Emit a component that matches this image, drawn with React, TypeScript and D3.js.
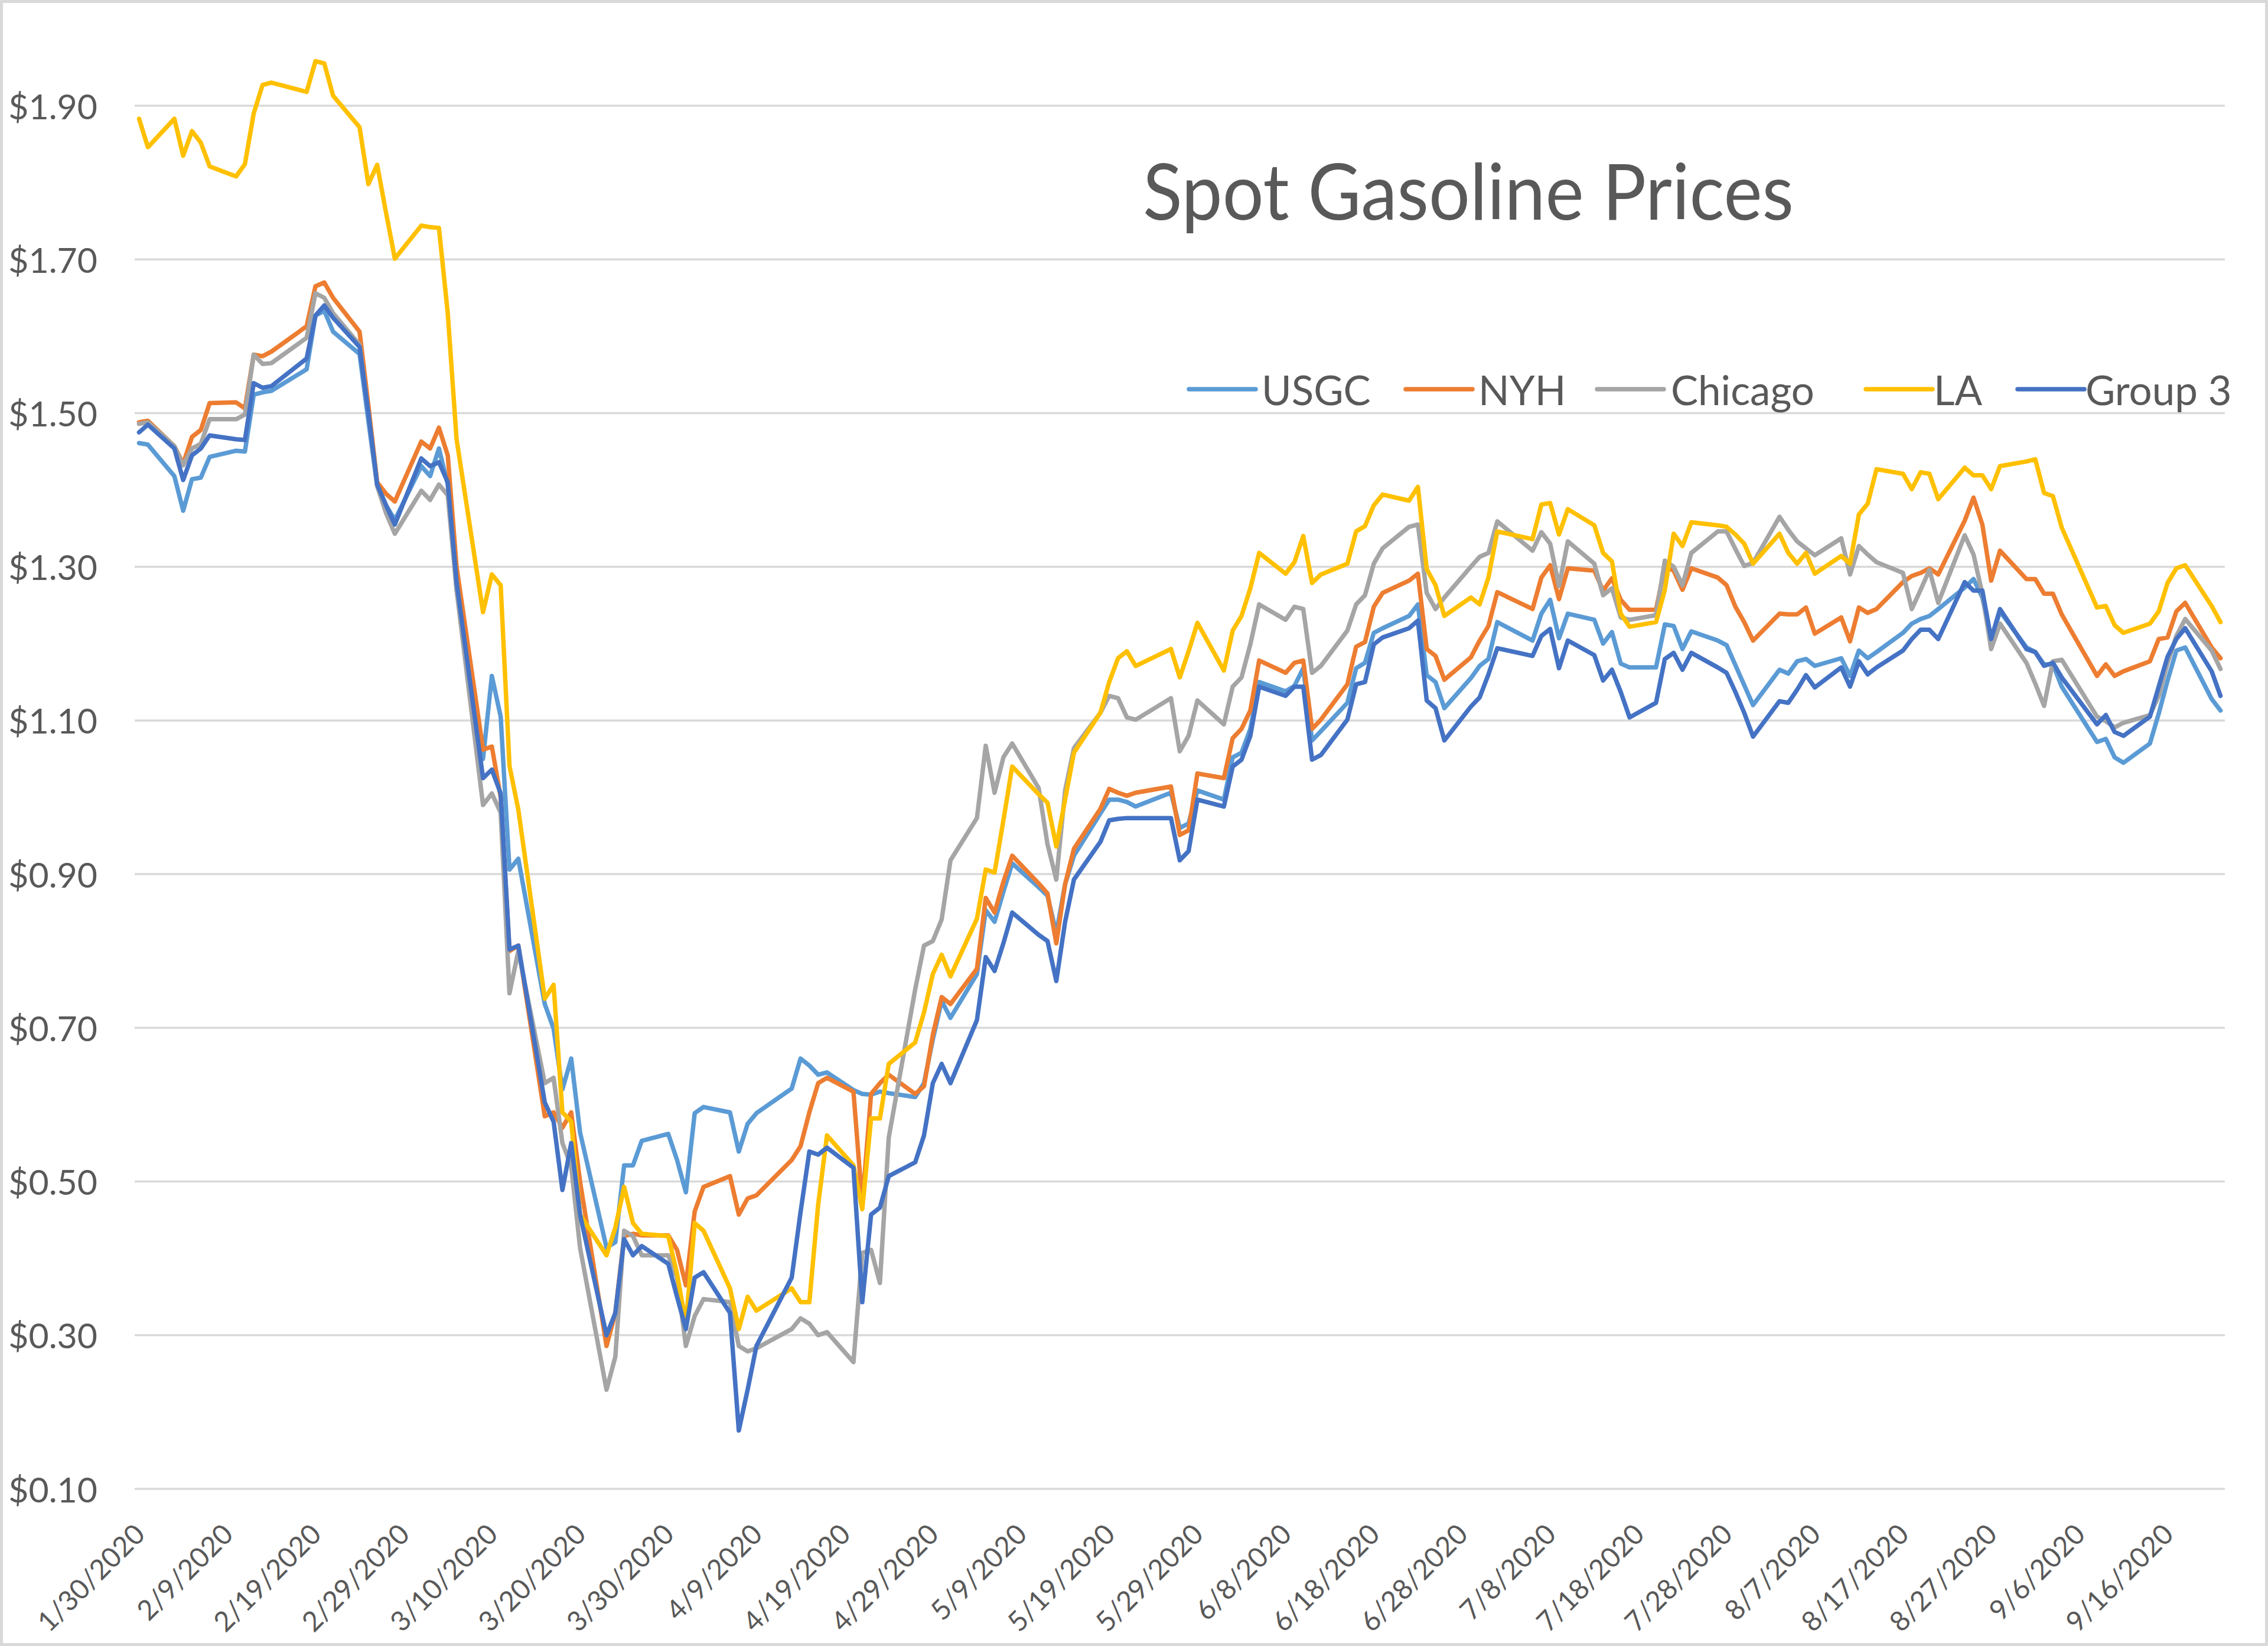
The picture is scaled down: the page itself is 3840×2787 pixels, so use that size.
import React from "react";
import * as d3 from "d3";

// ---- Data ----
const dates: string[] = [
  "1/30","1/31","2/3","2/4","2/5","2/6","2/7","2/10","2/11","2/12","2/13","2/14","2/18","2/19","2/20","2/21","2/24","2/25","2/26","2/27","2/28","3/2","3/3","3/4","3/5","3/6","3/9","3/10",
  "3/11","3/12","3/13","3/16","3/17","3/18","3/19","3/20","3/23","3/24","3/25","3/26","3/27","3/30","3/31","4/1","4/2","4/3","4/6","4/7","4/8","4/9","4/13","4/14","4/15","4/16","4/17","4/20","4/21","4/22","4/23","4/24","4/27","4/28","4/29","4/30","5/1","5/4","5/5","5/6",
  "5/7","5/8","5/11","5/12","5/13","5/14","5/15","5/18","5/19","5/20","5/21","5/22","5/26","5/27","5/28","5/29","6/1","6/2","6/3","6/4","6/5","6/8","6/9","6/10","6/11","6/12","6/15","6/16","6/17","6/18","6/19","6/22","6/23","6/24","6/25","6/26",
  "6/29","6/30","7/1","7/2","7/6","7/7","7/8","7/9","7/10","7/13","7/14","7/15","7/16","7/17","7/20","7/21","7/22","7/23","7/24","7/27","7/28","7/29","7/30","7/31","8/3","8/4","8/5","8/6","8/7",
  "8/10","8/11","8/12","8/13","8/14","8/17","8/18","8/19","8/20","8/21","8/24","8/25","8/26","8/27","8/28","8/31","9/1","9/2","9/3","9/4","9/8","9/9","9/10","9/11","9/14","9/15","9/16","9/17","9/18","9/21","9/22",
];

const usgc: number[] = [
  1.461,1.459,1.418,1.373,1.414,1.416,1.443,1.451,1.450,1.524,1.527,1.529,1.557,1.627,1.633,1.606,1.577,1.49,1.405,1.38,1.361,1.431,1.418,1.454,1.407,1.27,1.05,1.158,
  1.105,0.906,0.920,0.731,0.699,0.62,0.660,0.564,0.414,0.421,0.521,0.521,0.553,0.562,0.528,0.486,0.589,0.597,0.590,0.539,0.575,0.589,0.621,0.660,0.651,0.639,0.642,0.619,0.614,0.613,0.617,0.615,0.610,0.628,0.685,0.735,0.713,0.77,0.853,0.838,
  0.877,0.914,0.883,0.872,0.823,0.887,0.924,0.979,0.997,0.997,0.994,0.988,1.006,0.96,0.966,1.009,0.997,1.052,1.058,1.089,1.15,1.138,1.145,1.168,1.074,1.086,1.123,1.168,1.175,1.214,1.22,1.236,1.251,1.159,1.15,1.116,
  1.155,1.171,1.18,1.228,1.204,1.239,1.257,1.207,1.239,1.231,1.20,1.215,1.174,1.169,1.169,1.225,1.223,1.193,1.216,1.204,1.198,1.172,1.146,1.12,1.166,1.161,1.177,1.18,1.171,
  1.181,1.158,1.191,1.181,1.189,1.214,1.226,1.232,1.236,1.245,1.273,1.284,1.26,1.205,1.242,1.195,1.189,1.173,1.173,1.144,1.072,1.076,1.052,1.045,1.07,1.109,1.152,1.191,1.195,1.128,1.113,
];

const nyh: number[] = [
  1.488,1.490,1.457,1.434,1.469,1.478,1.513,1.514,1.506,1.576,1.574,1.58,1.613,1.665,1.670,1.650,1.606,1.51,1.41,1.395,1.385,1.463,1.454,1.481,1.445,1.30,1.062,1.066,
  1.0,0.80,0.807,0.585,0.590,0.57,0.59,0.50,0.286,0.329,0.429,0.432,0.430,0.430,0.411,0.365,0.461,0.493,0.507,0.457,0.478,0.482,0.528,0.546,0.59,0.628,0.635,0.617,0.471,0.614,0.628,0.639,0.614,0.624,0.691,0.74,0.731,0.777,0.869,0.85,
  0.89,0.924,0.888,0.875,0.81,0.887,0.933,0.985,1.011,1.006,1.002,1.006,1.014,0.951,0.957,1.031,1.025,1.077,1.089,1.113,1.178,1.162,1.175,1.178,1.089,1.101,1.147,1.196,1.202,1.248,1.266,1.282,1.291,1.193,1.184,1.153,
  1.182,1.204,1.223,1.267,1.245,1.286,1.302,1.258,1.298,1.295,1.269,1.285,1.257,1.244,1.244,1.30,1.295,1.27,1.298,1.286,1.276,1.248,1.228,1.204,1.239,1.238,1.238,1.247,1.213,
  1.234,1.203,1.247,1.24,1.245,1.28,1.288,1.292,1.298,1.29,1.36,1.39,1.355,1.282,1.321,1.284,1.284,1.265,1.265,1.238,1.158,1.173,1.158,1.164,1.177,1.206,1.208,1.242,1.253,1.195,1.181,
];

const chicago: number[] = [
  1.486,1.488,1.457,1.432,1.454,1.460,1.492,1.492,1.498,1.576,1.564,1.565,1.598,1.656,1.650,1.630,1.589,1.50,1.405,1.37,1.343,1.399,1.387,1.407,1.393,1.27,0.99,1.005,
  0.98,0.745,0.80,0.628,0.635,0.55,0.52,0.414,0.229,0.272,0.436,0.429,0.404,0.404,0.375,0.286,0.325,0.347,0.343,0.286,0.279,0.283,0.308,0.322,0.315,0.30,0.304,0.265,0.407,0.411,0.368,0.557,0.75,0.807,0.813,0.841,0.918,0.973,1.067,1.006,
  1.052,1.07,1.012,0.939,0.893,1.009,1.064,1.11,1.132,1.129,1.104,1.101,1.129,1.06,1.08,1.126,1.095,1.144,1.156,1.199,1.251,1.231,1.248,1.245,1.162,1.171,1.217,1.251,1.263,1.304,1.324,1.352,1.355,1.266,1.245,1.26,
  1.30,1.313,1.318,1.359,1.321,1.345,1.33,1.275,1.333,1.304,1.263,1.272,1.234,1.231,1.237,1.308,1.30,1.276,1.318,1.346,1.346,1.323,1.301,1.305,1.365,1.348,1.333,1.324,1.315,
  1.337,1.29,1.327,1.316,1.306,1.292,1.245,1.27,1.296,1.253,1.341,1.316,1.265,1.193,1.226,1.175,1.148,1.119,1.177,1.179,1.105,1.099,1.091,1.097,1.107,1.132,1.175,1.21,1.232,1.191,1.167,
];

const la: number[] = [
  1.883,1.846,1.883,1.835,1.867,1.852,1.821,1.808,1.824,1.89,1.927,1.930,1.918,1.958,1.955,1.913,1.872,1.798,1.823,1.761,1.701,1.744,1.742,1.741,1.630,1.466,1.241,1.290,
  1.276,1.041,0.984,0.738,0.756,0.59,0.578,0.457,0.404,0.44,0.493,0.446,0.432,0.429,0.38,0.315,0.446,0.436,0.361,0.308,0.350,0.332,0.361,0.343,0.343,0.47,0.56,0.521,0.464,0.582,0.582,0.653,0.681,0.72,0.77,0.795,0.767,0.842,0.906,0.902,
  0.97,1.04,1.004,0.993,0.936,0.997,1.058,1.11,1.15,1.181,1.19,1.171,1.193,1.156,1.19,1.227,1.165,1.217,1.236,1.272,1.318,1.291,1.306,1.34,1.279,1.29,1.304,1.346,1.353,1.38,1.394,1.386,1.404,1.297,1.276,1.236,
  1.26,1.251,1.286,1.346,1.336,1.381,1.383,1.342,1.375,1.354,1.318,1.307,1.239,1.222,1.228,1.27,1.343,1.327,1.358,1.354,1.352,1.342,1.33,1.304,1.343,1.318,1.304,1.318,1.291,
  1.314,1.304,1.368,1.382,1.427,1.421,1.401,1.423,1.421,1.388,1.429,1.419,1.419,1.401,1.431,1.437,1.44,1.396,1.392,1.351,1.247,1.249,1.224,1.214,1.226,1.242,1.279,1.298,1.302,1.249,1.228,
];

const group3: number[] = [
  1.475,1.485,1.454,1.413,1.445,1.454,1.471,1.466,1.465,1.539,1.533,1.535,1.571,1.627,1.640,1.624,1.586,1.50,1.407,1.38,1.355,1.441,1.431,1.436,1.410,1.28,1.025,1.036,
  1.005,0.802,0.807,0.603,0.578,0.489,0.550,0.457,0.30,0.329,0.425,0.404,0.416,0.393,0.350,0.308,0.375,0.382,0.329,0.176,0.229,0.286,0.375,0.46,0.539,0.535,0.544,0.518,0.343,0.457,0.466,0.507,0.525,0.56,0.628,0.653,0.628,0.71,0.792,0.774,
  0.81,0.85,0.821,0.813,0.761,0.838,0.893,0.942,0.97,0.972,0.973,0.973,0.973,0.918,0.93,0.997,0.988,1.04,1.049,1.08,1.144,1.132,1.144,1.144,1.049,1.055,1.101,1.147,1.15,1.199,1.208,1.22,1.23,1.126,1.116,1.074,
  1.118,1.13,1.16,1.194,1.184,1.21,1.219,1.168,1.204,1.185,1.152,1.166,1.137,1.104,1.123,1.18,1.188,1.166,1.188,1.169,1.162,1.137,1.11,1.079,1.125,1.123,1.14,1.159,1.143,
  1.169,1.144,1.177,1.16,1.169,1.191,1.206,1.218,1.218,1.206,1.28,1.269,1.269,1.206,1.245,1.193,1.189,1.171,1.175,1.156,1.095,1.107,1.085,1.08,1.105,1.144,1.183,1.206,1.22,1.164,1.132,
];

const seriesNames: string[] = ["USGC", "NYH", "Chicago", "LA", "Group 3"];
const seriesColors: string[] = ["#5B9BD5", "#ED7D31", "#A5A5A5", "#FFC000", "#4472C4"];

const yTicks: number[] = [0.1, 0.3, 0.5, 0.7, 0.9, 1.1, 1.3, 1.5, 1.7, 1.9];
const xTickLabels: string[] = [
  "1/30/2020","2/9/2020","2/19/2020","2/29/2020","3/10/2020","3/20/2020","3/30/2020","4/9/2020",
  "4/19/2020","4/29/2020","5/9/2020","5/19/2020","5/29/2020","6/8/2020","6/18/2020","6/28/2020",
  "7/8/2020","7/18/2020","7/28/2020","8/7/2020","8/17/2020","8/27/2020","9/6/2020","9/16/2020",
];
const title = "Spot Gasoline Prices";

const parseDate = (s: string) => {
  const parts = s.split("/").map(Number);
  const yr = parts.length > 2 ? parts[2] : 2020;
  return new Date(Date.UTC(yr, parts[0] - 1, parts[1]));
};

export default function App() {
  const W = 3840;
  const H = 2787;
  const plotLeft = 228;
  const plotRight = 3767;

  const x = d3
    .scaleUtc()
    .domain([new Date(Date.UTC(2020, 0, 29, 12)), new Date(Date.UTC(2020, 8, 22, 12))])
    .range([plotLeft, plotRight]);
  const y = d3.scaleLinear().domain([0.1, 1.9]).range([2521, 179]);

  const allSeries = [usgc, nyh, chicago, la, group3];
  const line = d3
    .line<[Date, number]>()
    .x((d) => x(d[0]))
    .y((d) => y(d[1]));

  const textColor = "#595959";
  const font = "Lato, 'Open Sans', sans-serif";

  const legendItems = [
    { lineX: 2013, textX: 2136 },
    { lineX: 2380, textX: 2503 },
    { lineX: 2704, textX: 2829 },
    { lineX: 3159, textX: 3274 },
    { lineX: 3416, textX: 3531 },
  ];
  const legendY = 659;
  const strokeW = 7.5;

  return (
    <svg
      width={W}
      height={H}
      viewBox={`0 0 ${W} ${H}`}
      style={{ position: "absolute", left: 0, top: 0, display: "block", background: "#ffffff" }}
      fontFamily={font}
    >
      <rect x={2.5} y={2.5} width={W - 5} height={H - 5} fill="#ffffff" stroke="#D9D9D9" strokeWidth={5} />

      {/* gridlines */}
      {yTicks.map((t) => (
        <line key={"g" + t} x1={plotLeft} x2={plotRight} y1={y(t)} y2={y(t)} stroke="#D9D9D9" strokeWidth={3.5} />
      ))}

      {/* y labels */}
      {yTicks.map((t) => (
        <text
          key={"yl" + t}
          x={165}
          y={y(t)}
          textAnchor="end"
          dominantBaseline="central"
          fontSize={59}
          fill={textColor}
        >
          {d3.format("$.2f")(t)}
        </text>
      ))}

      {/* x labels */}
      {xTickLabels.map((lab) => {
        const xx = x(parseDate(lab));
        return (
          <text
            key={"xl" + lab}
            transform={`translate(${xx},${2588}) rotate(-45)`}
            textAnchor="end"
            dominantBaseline="central"
            fontSize={47}
            fill={textColor}
          >
            {lab}
          </text>
        );
      })}

      {/* series lines */}
      {allSeries.map((vals, i) => {
        const pts: [Date, number][] = dates.map((d, j) => [parseDate(d), vals[j]] as [Date, number]);
        return (
          <path
            key={"s" + i}
            d={line(pts) || ""}
            fill="none"
            stroke={seriesColors[i]}
            strokeWidth={strokeW}
            strokeLinejoin="round"
            strokeLinecap="round"
          />
        );
      })}

      {/* title */}
      <text x={1935} y={372} fontSize={132} fill={textColor} textLength={1102} lengthAdjust="spacingAndGlyphs">
        {title}
      </text>

      {/* legend */}
      {seriesNames.map((nm, i) => (
        <g key={"lg" + nm}>
          <line
            x1={legendItems[i].lineX}
            x2={legendItems[i].lineX + 113}
            y1={legendY}
            y2={legendY}
            stroke={seriesColors[i]}
            strokeWidth={strokeW}
            strokeLinecap="round"
          />
          <text x={legendItems[i].textX} y={legendY} dominantBaseline="central" fontSize={69} fill={textColor}>
            {nm}
          </text>
        </g>
      ))}
    </svg>
  );
}
